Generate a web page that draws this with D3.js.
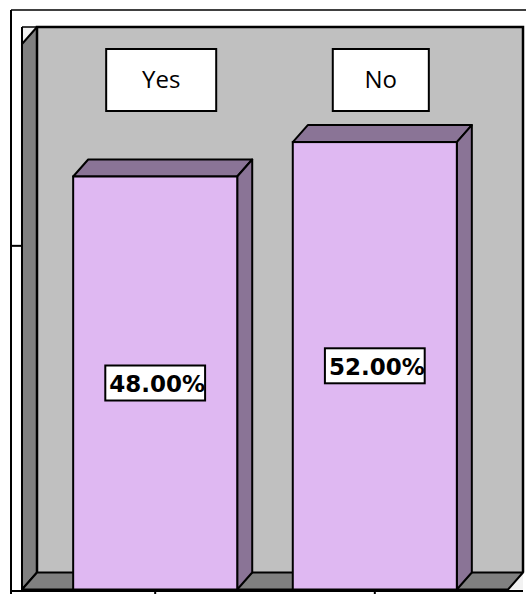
<!DOCTYPE html>
<html>
<head>
<meta charset="utf-8">
<script src="https://cdn.jsdelivr.net/npm/d3@7"></script>
<style>
  html, body { margin: 0; padding: 0; background: #fff; }
  svg { display: block; }
</style>
</head>
<body>
<svg id="chart" width="526" height="594"></svg>
<script>
// ---- data ----
const categories = ["Yes", "No"];
const values = [0.48, 0.52];
const valueLabels = ["48.00%", "52.00%"];
const valueTicks = [0.4];

(function () {
// ---- layout ----
const W = 526, H = 594;
const frameX = 11, frameY = 10;
const pLeft = 22, pRight = 523, pTop = 27, base = 589.5;
const dx = 15, dy = 17;

const svg = d3.select("#chart");

const x = d3.scaleBand().domain(categories)
  .range([pLeft, pRight - dx]).paddingInner(0.253).paddingOuter(0.233);
const y = d3.scaleLinear().domain([0, 0.6]).range([base, base - 0.6 * 860.4]);

const lineC = "#000";

// back wall
svg.append("rect").attr("x", pLeft + dx).attr("y", pTop)
  .attr("width", pRight - pLeft - dx).attr("height", base - dy - pTop)
  .attr("fill", "#c0c0c0");
// white corner triangles
svg.append("path").attr("d", `M${pLeft},${pTop}L${pLeft + dx},${pTop}L${pLeft},${pTop + dy}Z`).attr("fill", "#f2f2f2");
svg.append("path").attr("d", `M${pRight - dx},${base}L${pRight},${base - dy}L${pRight},${base}Z`).attr("fill", "#f2f2f2");
// left wall
svg.append("path")
  .attr("d", `M${pLeft},${pTop + dy}L${pLeft + dx},${pTop}L${pLeft + dx},${base - dy}L${pLeft},${base}Z`)
  .attr("fill", "#808080").attr("stroke", lineC).attr("stroke-width", 2).attr("stroke-linejoin", "round");
// floor
svg.append("path")
  .attr("d", `M${pLeft},${base}L${pLeft + dx},${base - dy}L${pRight},${base - dy}L${pRight - dx},${base}Z`)
  .attr("fill", "#808080").attr("stroke", lineC).attr("stroke-width", 2).attr("stroke-linejoin", "round");
// back wall outline
svg.append("path")
  .attr("d", `M${pLeft + dx},${base - dy}L${pLeft + dx},${pTop}L${pRight},${pTop}L${pRight},${base - dy}`)
  .attr("fill", "none").attr("stroke", lineC).attr("stroke-width", 2.5);
// chart-area box lines
svg.append("line").attr("x1", pLeft).attr("x2", pLeft).attr("y1", pTop).attr("y2", base)
  .attr("stroke", lineC).attr("stroke-width", 2);
svg.append("line").attr("x1", pLeft).attr("x2", pRight).attr("y1", pTop).attr("y2", pTop)
  .attr("stroke", lineC).attr("stroke-width", 1.5);

// bars
const bars = svg.append("g").selectAll("g").data(categories).join("g");
bars.each(function (c, i) {
  const g = d3.select(this);
  const x0 = x(c), x1 = x(c) + x.bandwidth(), yt = y(values[i]);
  g.append("path")
    .attr("d", `M${x0},${yt}L${x0 + dx},${yt - dy}L${x1 + dx},${yt - dy}L${x1},${yt}Z`)
    .attr("fill", "#8a7496").attr("stroke", lineC).attr("stroke-width", 2).attr("stroke-linejoin", "round");
  g.append("path")
    .attr("d", `M${x1},${yt}L${x1 + dx},${yt - dy}L${x1 + dx},${base - dy}L${x1},${base}Z`)
    .attr("fill", "#8a7496").attr("stroke", lineC).attr("stroke-width", 2).attr("stroke-linejoin", "round");
  g.append("rect").attr("x", x0).attr("y", yt).attr("width", x1 - x0).attr("height", base - yt)
    .attr("fill", "#dfb8f2").attr("stroke", lineC).attr("stroke-width", 2);
});

// category label boxes
categories.forEach((c, i) => {
  const cx = x(c) + x.bandwidth() / 2 + 6;
  const g = svg.append("g");
  const rect = g.append("rect");
  const t = g.append("text").attr("x", cx).attr("y", 88)
    .attr("text-anchor", "middle")
    .attr("font-family", "'Open Sans', sans-serif").attr("font-size", 24)
    .attr("fill", "#000").text(c);
  const tw = t.node().getComputedTextLength();
  const bw = 2.4 * tw + 18;
  rect.attr("x", cx - bw / 2).attr("y", 49).attr("width", bw).attr("height", 62)
    .attr("fill", "#fff").attr("stroke", lineC).attr("stroke-width", 2);
});

// value labels
categories.forEach((c, i) => {
  const cx = x(c) + x.bandwidth() / 2;
  const cy = (y(values[i]) + base) / 2;
  const g = svg.append("g");
  const rect = g.append("rect");
  const t = g.append("text")
    .attr("font-family", "'DejaVu Sans', sans-serif").attr("font-weight", "bold")
    .attr("font-size", 23).attr("fill", "#000").text(valueLabels[i]);
  const tw = t.node().getComputedTextLength();
  const bw = tw + 4, bh = 35;
  const bx = cx - bw / 2, by = cy - bh / 2;
  rect.attr("x", bx).attr("y", by).attr("width", bw).attr("height", bh)
    .attr("fill", "#fff").attr("stroke", lineC).attr("stroke-width", 2);
  t.attr("x", bx + 4).attr("y", by + 26.5);
});

// outer frame
svg.append("line").attr("x1", frameX).attr("x2", frameX).attr("y1", frameY).attr("y2", H)
  .attr("stroke", lineC).attr("stroke-width", 2);
svg.append("line").attr("x1", frameX).attr("x2", W).attr("y1", frameY).attr("y2", frameY)
  .attr("stroke", lineC).attr("stroke-width", 1.5);

// category axis
svg.append("line").attr("x1", frameX).attr("x2", pRight).attr("y1", base + 1.5).attr("y2", base + 1.5)
  .attr("stroke", lineC).attr("stroke-width", 2);
const xAxis = svg.append("g").attr("transform", `translate(0,${base + 1.5})`)
  .call(d3.axisBottom(x).tickSize(5).tickSizeOuter(0).tickFormat(""));
xAxis.select(".domain").remove();
xAxis.selectAll(".tick line").attr("stroke", lineC).attr("stroke-width", 2);

// value axis (single tick on left)
const yAxis = svg.append("g").attr("transform", `translate(${pLeft},0)`)
  .call(d3.axisLeft(y).tickValues(valueTicks).tickSize(pLeft - frameX).tickFormat(""));
yAxis.select(".domain").remove();
yAxis.selectAll(".tick line").attr("stroke", lineC).attr("stroke-width", 2);
})();
</script>
</body>
</html>
